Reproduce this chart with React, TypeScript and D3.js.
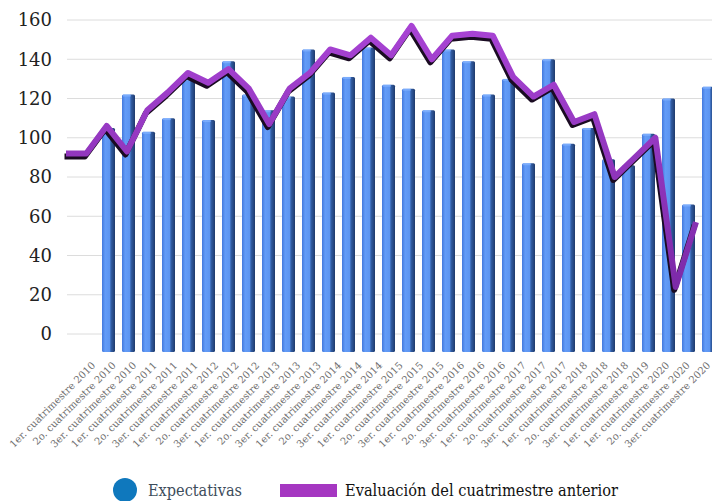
import * as d3 from "d3";

// categories shown under the bars
const periods = [
  "1er. cuatrimestre 2010", "2o. cuatrimestre 2010", "3er. cuatrimestre 2010",
  "1er. cuatrimestre 2011", "2o. cuatrimestre 2011", "3er. cuatrimestre 2011",
  "1er. cuatrimestre 2012", "2o. cuatrimestre 2012", "3er. cuatrimestre 2012",
  "1er. cuatrimestre 2013", "2o. cuatrimestre 2013", "3er. cuatrimestre 2013",
  "1er. cuatrimestre 2014", "2o. cuatrimestre 2014", "3er. cuatrimestre 2014",
  "1er. cuatrimestre 2015", "2o. cuatrimestre 2015", "3er. cuatrimestre 2015",
  "1er. cuatrimestre 2016", "2o. cuatrimestre 2016", "3er. cuatrimestre 2016",
  "1er. cuatrimestre 2017", "2o. cuatrimestre 2017", "3er. cuatrimestre 2017",
  "1er. cuatrimestre 2018", "2o. cuatrimestre 2018", "3er. cuatrimestre 2018",
  "1er. cuatrimestre 2019",
  "1er. cuatrimestre 2020", "2o. cuatrimestre 2020", "3er. cuatrimestre 2020",
];

const expectativas = [
  105, 122, 103, 110, 130, 109, 139, 122, 114, 121, 145, 123, 131, 146, 127, 125,
  114, 145, 139, 122, 130, 87, 140, 97, 105, 89, 86, 102, 120, 66, 126,
];

const evaluacion = [
  92, 92, 106, 93, 114, 123, 133, 128, 135, 125, 107, 125, 133, 145, 142, 151,
  142, 157, 140, 152, 153, 152, 131, 121, 127, 108, 112, 80, 90, 100, 24, 57,
];

const yTicks = [0, 20, 40, 60, 80, 100, 120, 140, 160];

const W = 712;
const H = 501;
const floorDrop = 18; // 3d floor sits a bit under the zero line

export default function App() {
  const y = d3.scaleLinear().domain([0, 160]).range([334, 20]);
  const xBar = d3
    .scalePoint<number>()
    .domain(d3.range(expectativas.length))
    .range([108.5, 708.5]);
  const xLine = d3
    .scalePoint<number>()
    .domain(d3.range(evaluacion.length))
    .range([66, 696]);
  const xLabel = d3
    .scalePoint<number>()
    .domain(d3.range(periods.length))
    .range([96, 711]);

  const line = d3
    .line<number>()
    .x((_, i) => xLine(i)!)
    .y((d) => y(d));

  const barW = 13;
  const font = "'DejaVu Serif', serif";

  return (
    <svg
      width={W}
      height={H}
      viewBox={`0 0 ${W} ${H}`}
      style={{ position: "absolute", left: 0, top: 0, background: "#fff" }}
    >
      <defs>
        <linearGradient id="barGrad" x1="0" x2="1" y1="0" y2="0">
          <stop offset="0" stopColor="#4479dc" />
          <stop offset="0.25" stopColor="#639cf8" />
          <stop offset="0.6" stopColor="#5c94f0" />
          <stop offset="0.68" stopColor="#3360a8" />
          <stop offset="1" stopColor="#1f3a6c" />
        </linearGradient>
        <linearGradient id="lineGrad" x1="0" x2="0" y1="0" y2="1">
          <stop offset="0" stopColor="#a843d4" />
          <stop offset="1" stopColor="#7c2aa8" />
        </linearGradient>
      </defs>

      {/* grid */}
      <g stroke="#dcdcdc" strokeWidth={1}>
        {yTicks.map((t) => (
          <line key={t} x1={67} x2={712} y1={y(t)} y2={y(t)} />
        ))}
      </g>

      {/* y labels */}
      <g fontFamily={font} fontSize={18} fill="#222" textAnchor="end">
        {yTicks.map((t) => (
          <text key={t} x={52} y={y(t)} dy="0.35em">
            {t}
          </text>
        ))}
      </g>

      {/* bars */}
      <g>
        {expectativas.map((v, i) => (
          <g key={i}>
            <rect
              x={xBar(i)! - barW / 2}
              y={y(v)}
              width={barW}
              height={y(0) + floorDrop - y(v)}
              fill="url(#barGrad)"
              rx={1.5}
            />
            <rect
              x={xBar(i)! - barW / 2 + 1}
              y={y(v)}
              width={barW * 0.6}
              height={2}
              fill="#84b4ff"
              opacity={0.7}
            />
          </g>
        ))}
      </g>

      {/* line, 3d ribbon look */}
      <path
        d={line(evaluacion)!}
        fill="none"
        stroke="#1a0b22"
        strokeWidth={6}
        strokeLinejoin="round"
        transform="translate(-1.5,3)"
      />
      <path
        d={line(evaluacion)!}
        fill="none"
        stroke="url(#lineGrad)"
        strokeWidth={6}
        strokeLinejoin="round"
      />

      {/* x labels */}
      <g fontFamily={font} fontSize={10} fill="#6e6e6e" textAnchor="end">
        {periods.map((p, i) => (
          <text
            key={i}
            transform={`translate(${xLabel(i)},366) rotate(-45)`}
          >
            {p}
          </text>
        ))}
      </g>

      {/* legend */}
      <circle cx={125} cy={490} r={12} fill="#0f78bd" />
      <text
        x={148}
        y={496}
        fontFamily={font}
        fontSize={17}
        fill="#3d4d5c"
        textLength={94}
        lengthAdjust="spacingAndGlyphs"
      >
        Expectativas
      </text>
      <rect x={280} y={484} width={57} height={13} fill="#a537c1" />
      <text
        x={345}
        y={496}
        fontFamily={font}
        fontSize={17}
        fill="#111"
        textLength={273}
        lengthAdjust="spacingAndGlyphs"
      >
        Evaluación del cuatrimestre anterior
      </text>
    </svg>
  );
}
